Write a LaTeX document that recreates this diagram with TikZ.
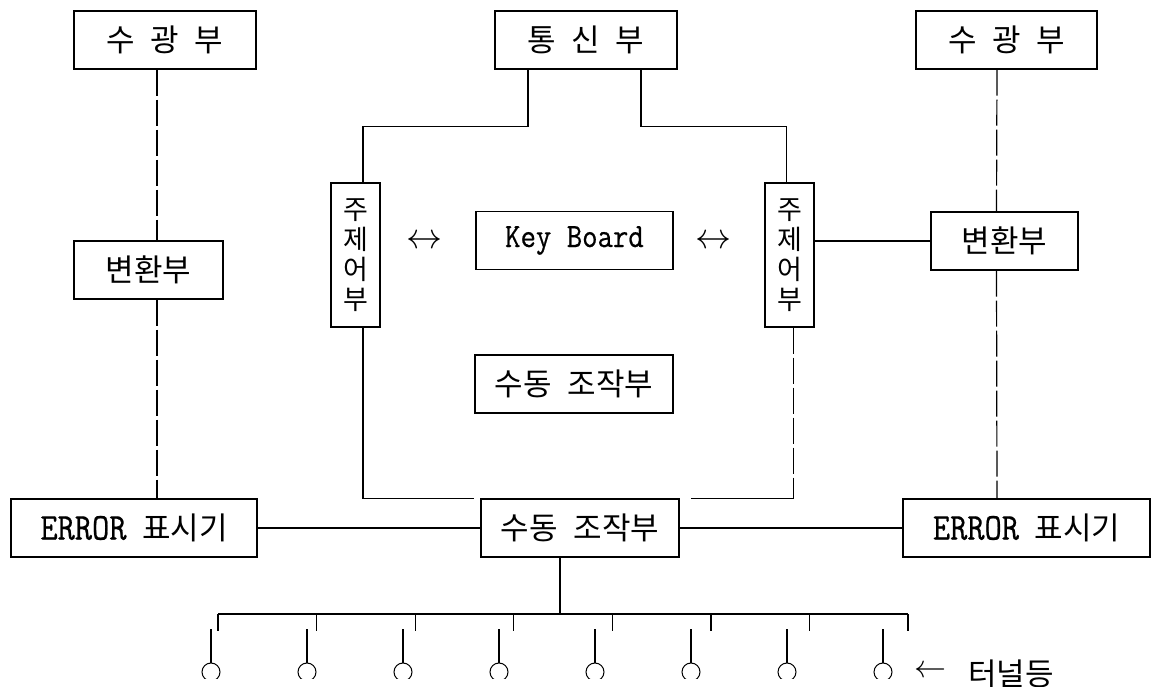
\documentclass[tikz,border=0pt]{standalone}
\usepackage{fontspec}
\newfontfamily\kr{Noto Sans CJK KR}
\newfontfamily\mono[FakeStretch=0.88,FakeBold=0.6]{Latin Modern Mono}
\begin{document}
\begin{tikzpicture}[x=1pt,y=-1pt,line width=1.2pt,
  box/.style={draw,inner sep=0pt,minimum height=58pt,font=\fontsize{31}{31}\selectfont\kr},
  vbox/.style={draw,inner sep=0pt,minimum width=49pt,minimum height=144pt,align=center,font=\fontsize{27}{30}\selectfont\kr},
  vline/.style={dash pattern=on 26pt off 4pt},
  sym/.style={inner sep=0pt},
  term/.style={draw,circle,minimum size=18pt,inner sep=0pt,line width=1pt}]
\useasboundingbox (0,0) rectangle (1152,687);
% top row
\node[box,minimum width=182pt] (sg1) at (165,40) {수\hspace{0.5em}광\hspace{0.5em}부};
\node[box,minimum width=182pt] (ts) at (586,40) {통\hspace{0.5em}신\hspace{0.5em}부};
\node[box,minimum width=181pt] (sg2) at (1006.5,40) {수\hspace{0.5em}광\hspace{0.5em}부};
% middle
\node[box,minimum width=149pt] (bh1) at (148.5,270) {변환부};
\node[vbox] (jz1) at (355.5,255) {주\\제\\어\\부};
\node[box,minimum width=197pt,font=\fontsize{34}{34}\selectfont\mono] (kb) at (574.5,240.5) {Key Board};
\node[vbox] (jz2) at (789.5,255) {주\\제\\어\\부};
\node[box,minimum width=147pt] (bh2) at (1004.5,241) {변환부};
\node[sym] (a1) at (424,242) {\scalebox{3.6}{$\leftrightarrow$}};
\node[sym] (a2) at (713,242) {\scalebox{3.6}{$\leftrightarrow$}};
\node[box,minimum width=198pt] (sd1) at (574,384) {수동\hspace{0.5em}조작부};
% bottom row
\node[box,minimum width=246pt] (er1) at (134,528) {{\fontsize{38}{38}\selectfont\mono ERROR}\hspace{0.5em}표시기};
\node[box,minimum width=198pt] (sd2) at (580,528) {수동\hspace{0.5em}조작부};
\node[box,minimum width=247pt] (er2) at (1026.5,528) {{\fontsize{38}{38}\selectfont\mono ERROR}\hspace{0.5em}표시기};
% connectors
\draw[vline] ([xshift=-8pt]sg1.south) -- ([xshift=8.5pt]bh1.north);
\draw[vline] ([xshift=8.5pt]bh1.south) -- ([xshift=23pt]er1.north);
\draw[vline] ([xshift=-9.5pt]sg2.south) -- ([xshift=-8pt]bh2.north);
\draw[vline] ([xshift=-8pt]bh2.south) -- ([xshift=-29.5pt]er2.north);
\draw ([xshift=-58pt]ts.south) -- ++(0,57) -| ([xshift=7.5pt]jz1.north);
\draw ([xshift=55pt]ts.south) -- ++(0,57) -| ([xshift=-3pt]jz2.north);
\draw (bh2.west) -- (bh2.west -| jz2.east);
\draw ([xshift=7.5pt]jz1.south) |- ([xshift=-6pt]sd2.north west);
\coordinate (jz2c) at ([xshift=4pt]jz2.south |- sd2.north);
\draw[vline] ([xshift=4pt]jz2.south) -- (jz2c);
\draw (jz2c) -- ([xshift=11pt]sd2.north east);
\draw (er1.east) -- (sd2.west);
\draw (sd2.east) -- (er2.west);
% bus and terminals
\foreach \i/\dx in {1/218,2/316.6,3/415.1,4/513.7,5/612.3,6/710.9,7/809.4,8/908}
  \coordinate (d\i) at (\dx,614);
\draw ([xshift=-20pt]sd2.south) -- ++(0,57);
\draw (d1) -- (d8);
\begin{scope}
\clip (0,0) rectangle (1152,678);
\foreach \i/\cx in {1/211,2/307,3/403,4/499,5/595,6/691,7/787,8/883}
  \node[term] (c\i) at (\cx,672) {};
\end{scope}
\foreach \i in {1,...,8}{
  \draw (d\i) -- ++(0,17);
  \draw (c\i.north) -- ++(0,-34);
}
\node[sym] (arr) at (930,672) {\scalebox{3.2}{$\leftarrow$}};
\node[inner sep=0pt,font=\fontsize{31}{31}\selectfont\kr] (tn) at (1011,674) {터널등};
\end{tikzpicture}
\end{document}
